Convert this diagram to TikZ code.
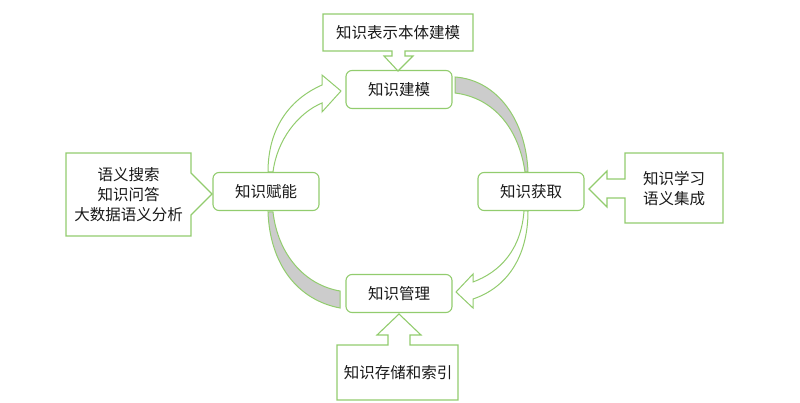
\documentclass[tikz,border=0pt]{standalone}
\usepackage{fontspec}
\newfontfamily\cjk{Noto Sans CJK SC}
\definecolor{gline}{RGB}{146,204,110}
\definecolor{wedge}{RGB}{204,204,204}
\begin{document}
\begin{tikzpicture}[x=1pt,y=-1pt,
  stagebox/.style={draw=gline,line width=1.1pt,rounded corners=6pt,fill=white,
    minimum width=106pt,minimum height=38pt,inner sep=0pt,
    font=\cjk\fontsize{15.5}{20}\selectfont,text=black!90},
  calltext/.style={inner sep=0pt,align=center,font=\cjk\fontsize{15.5}{20}\selectfont,text=black!90},
  callout/.style={draw=gline,line width=1.1pt,fill=white,line join=miter},
  hollow/.style={draw=gline,line width=1.0pt,fill=white},
  graywedge/.style={draw=gline,line width=1.0pt,fill=wedge}]
\useasboundingbox (0,0) rectangle (800,403);

% stage boxes
\node[stagebox] (model) at (399,89.5) {知识建模};
\node[stagebox] (acq) at (531,191.5) {知识获取};
\node[stagebox] (mgmt) at (399,293.5) {知识管理};
\node[stagebox] (enable) at (266,191.5) {知识赋能};

% circular arrows
\draw[hollow] (268,172) .. controls (268,130) and (288,100) .. (322,85)
  -- (322,75) -- (341,91) -- (322,112) -- (322,103)
  .. controls (298,113) and (277,140) .. (273,172) -- cycle;
\draw[graywedge] (455,77) .. controls (497,80) and (526,120) .. (528,172)
  -- (525,172) .. controls (519,130) and (495,98) .. (455,93) -- cycle;
\draw[hollow] (528,211) .. controls (528,258) and (506,288) .. (473,299)
  -- (473,308) -- (456,292) -- (473,274) -- (473,282)
  .. controls (500,272) and (521,250) .. (524,211) -- cycle;
\draw[graywedge] (268,212) .. controls (270,265) and (298,300) .. (340,308)
  -- (340,291) .. controls (305,285) and (278,255) .. (273,212) -- cycle;

% callouts
\draw[callout] (323,14) -- (473,14) -- (473,51) -- (405,51) -- (405,56) -- (413,56)
  -- (398,71) -- (384,56) -- (392,56) -- (392,51) -- (323,51) -- cycle;
\node[calltext] (ctop) at (398,32.5) {知识表示本体建模};

\draw[callout] (625,153) -- (723,153) -- (723,223) -- (625,223) -- (625,198)
  -- (607,198) -- (607,207) -- (589,189) -- (607,171) -- (607,179) -- (625,179) -- cycle;
\node[calltext] (cright) at (674,189) {知识学习\\语义集成};

\draw[callout] (66,153) -- (191,153) -- (191,173) -- (212,194) -- (191,215)
  -- (191,236) -- (66,236) -- cycle;
\node[calltext] (cleft) at (128.5,195) {语义搜索\\知识问答\\大数据语义分析};

\draw[callout] (337,345) -- (388,345) -- (388,335) -- (377,335) -- (399,314)
  -- (421,335) -- (410,335) -- (410,345) -- (458,345) -- (458,400) -- (337,400) -- cycle;
\node[calltext] (cbottom) at (398,373) {知识存储和索引};
\end{tikzpicture}
\end{document}
